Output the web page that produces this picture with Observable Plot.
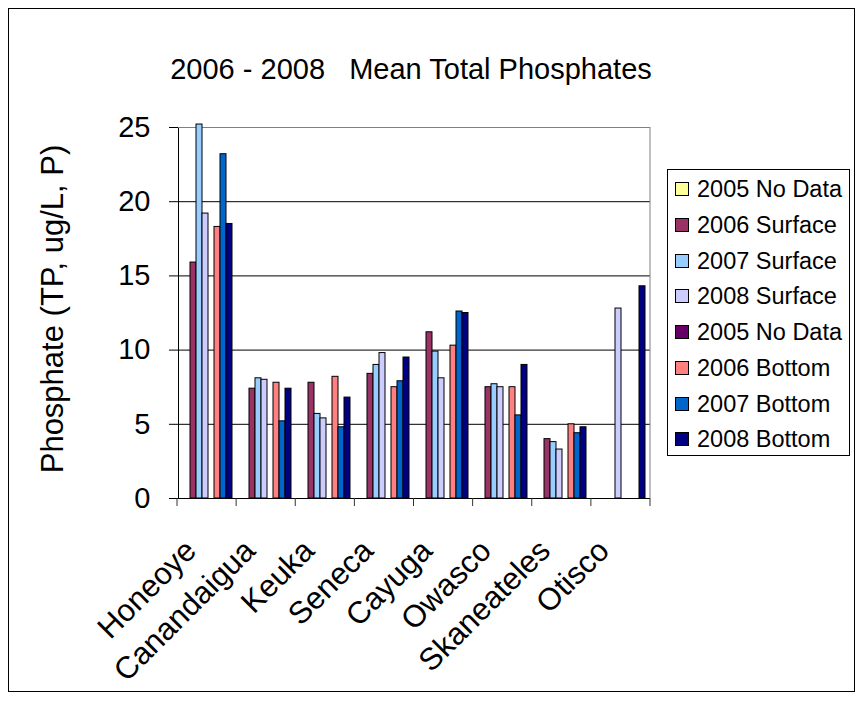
<!DOCTYPE html>
<html><head><meta charset="utf-8">
<script src="https://cdn.jsdelivr.net/npm/d3@7"></script>
<script src="https://cdn.jsdelivr.net/npm/@observablehq/plot@0.6"></script>
<style>
body{margin:0;background:#fff;}
#wrap{position:relative;width:857px;height:709px;font-family:"Liberation Sans",Arial,sans-serif;overflow:hidden;background:#fff;color:#000}
#wrap svg{position:absolute;left:0;top:0}
#outer{position:absolute;left:8px;top:8px;width:847px;height:684px;border:1px solid #000;box-sizing:border-box}
#title{position:absolute;left:411px;top:55px;transform:translateX(-50%);font-size:29px;line-height:29px;white-space:pre}
#ylab{position:absolute;left:52px;top:309px;transform:translate(-50%,-50%) rotate(-90deg);font-size:31px;line-height:31px;white-space:nowrap}
#legend{position:absolute;left:667px;top:169px;width:183px;height:287px;border:1px solid #000;box-sizing:border-box;background:#fff}
.row{position:absolute;left:0;height:24px;line-height:24px;font-size:23.5px;white-space:nowrap}
.sw{position:absolute;left:7px;top:5px;width:14px;height:14px;border:1px solid #000;box-sizing:border-box}
.lt{position:absolute;left:29px;top:0}
</style></head><body><div id="wrap"><div id="outer"></div></div>
<script>
const lakes = ["Honeoye","Canandaigua","Keuka","Seneca","Cayuga","Owasco","Skaneateles","Otisco"];
const seriesKeys = ["s2005S","s2006S","s2007S","s2008S","s2005B","s2006B","s2007B","s2008B"];
const seriesNames = ["2005 No Data","2006 Surface","2007 Surface","2008 Surface","2005 No Data","2006 Bottom","2007 Bottom","2008 Bottom"];
const seriesColors = ["#FFFF99","#993366","#99CCFF","#CCCCFF","#660066","#FF8080","#0066CC","#000080"];
const v2005Surface = [null,null,null,null,null,null,null,null];
const v2006Surface = [15.9, 7.4, 7.8, 8.4, 11.2, 7.5, 4.0, null];
const v2007Surface = [25.2, 8.1, 5.7, 9.0, 9.9, 7.7, 3.8, null];
const v2008Surface = [19.2, 8.0, 5.4, 9.8, 8.1, 7.5, 3.3, 12.8];
const v2005Bottom = [null,null,null,null,null,null,null,null];
const v2006Bottom = [18.3, 7.8, 8.2, 7.5, 10.3, 7.5, 5.0, null];
const v2007Bottom = [23.2, 5.2, 4.8, 7.9, 12.6, 5.6, 4.4, null];
const v2008Bottom = [18.5, 7.4, 6.8, 9.5, 12.5, 9.0, 4.8, 14.3];
const yTicks = [0,5,10,15,20,25];
const gridTicks = [5,10,15,20];
const titleText = "2006 - 2008   Mean Total Phosphates";
const yLabel = "Phosphate (TP, ug/L, P)";

const seriesValues = [v2005Surface,v2006Surface,v2007Surface,v2008Surface,v2005Bottom,v2006Bottom,v2007Bottom,v2008Bottom];
const rows = [];
seriesKeys.forEach((k, si) => lakes.forEach((lake, li) => {
  const v = seriesValues[si][li];
  if (v != null) rows.push({lake, key: k, value: v});
}));

const chart = Plot.plot({
  width: 857, height: 709,
  marginLeft: 177, marginRight: 207, marginTop: 127, marginBottom: 211,
  style: {fontFamily: '"Liberation Sans", Arial, sans-serif', fontSize: "29px", color: "#000", background: "transparent", overflow: "visible"},
  fx: {domain: lakes, padding: 0, axis: null},
  x: {domain: seriesKeys, paddingInner: 0, paddingOuter: 0.6, axis: null},
  y: {domain: [0, 25], ticks: yTicks, tickSize: 9, tickPadding: 19, label: null, line: true},
  color: {domain: seriesKeys, range: seriesColors},
  marks: [
    Plot.ruleY(gridTicks, {stroke: "#000", strokeWidth: 1}),
    Plot.ruleY([25], {stroke: "#808080", strokeWidth: 1}),
    Plot.barY(rows, {fx: "lake", x: "key", y: "value", fill: "key", stroke: "#000", strokeWidth: 1}),
    Plot.ruleY([0], {stroke: "#000", strokeWidth: 1}),
    Plot.text(lakes, {fx: d => d, text: d => d, frameAnchor: "bottom", dx: -10, dy: 54, rotate: -45, textAnchor: "end", lineAnchor: "bottom", fontSize: 31, fill: "#000"})
  ]
});

const wrap = document.getElementById("wrap");
wrap.appendChild(chart);

// category boundary ticks and right border using Plot's scales
const fxSc = chart.scale("fx");
const ySc = chart.scale("y");
const fxBand = d3.scaleBand(fxSc.domain, fxSc.range).paddingInner(0).paddingOuter(0);
const yLin = d3.scaleLinear(ySc.domain, ySc.range);
const bounds = lakes.map(l => fxBand(l)).concat([fxBand(lakes[lakes.length - 1]) + fxBand.bandwidth()]);
const g = d3.select(chart).append("g");
g.selectAll("line.tk").data(bounds).join("line")
  .attr("x1", d => d).attr("x2", d => d)
  .attr("y1", yLin(0)).attr("y2", yLin(0) + 8)
  .attr("stroke", "#333");
g.append("line")
  .attr("x1", bounds[bounds.length - 1]).attr("x2", bounds[bounds.length - 1])
  .attr("y1", yLin(0)).attr("y2", yLin(25))
  .attr("stroke", "#808080");

const t = document.createElement("div"); t.id = "title"; t.textContent = titleText; wrap.appendChild(t);
const yl = document.createElement("div"); yl.id = "ylab"; yl.textContent = yLabel; wrap.appendChild(yl);
const lg = document.createElement("div"); lg.id = "legend"; wrap.appendChild(lg);
seriesNames.forEach((name, i) => {
  const r = document.createElement("div"); r.className = "row";
  r.style.top = (20.3 + 35.7 * i - 1 - 12) + "px";
  const s = document.createElement("div"); s.className = "sw"; s.style.background = seriesColors[i];
  const tx = document.createElement("div"); tx.className = "lt"; tx.textContent = name;
  r.appendChild(s); r.appendChild(tx); lg.appendChild(r);
});
</script></body></html>
